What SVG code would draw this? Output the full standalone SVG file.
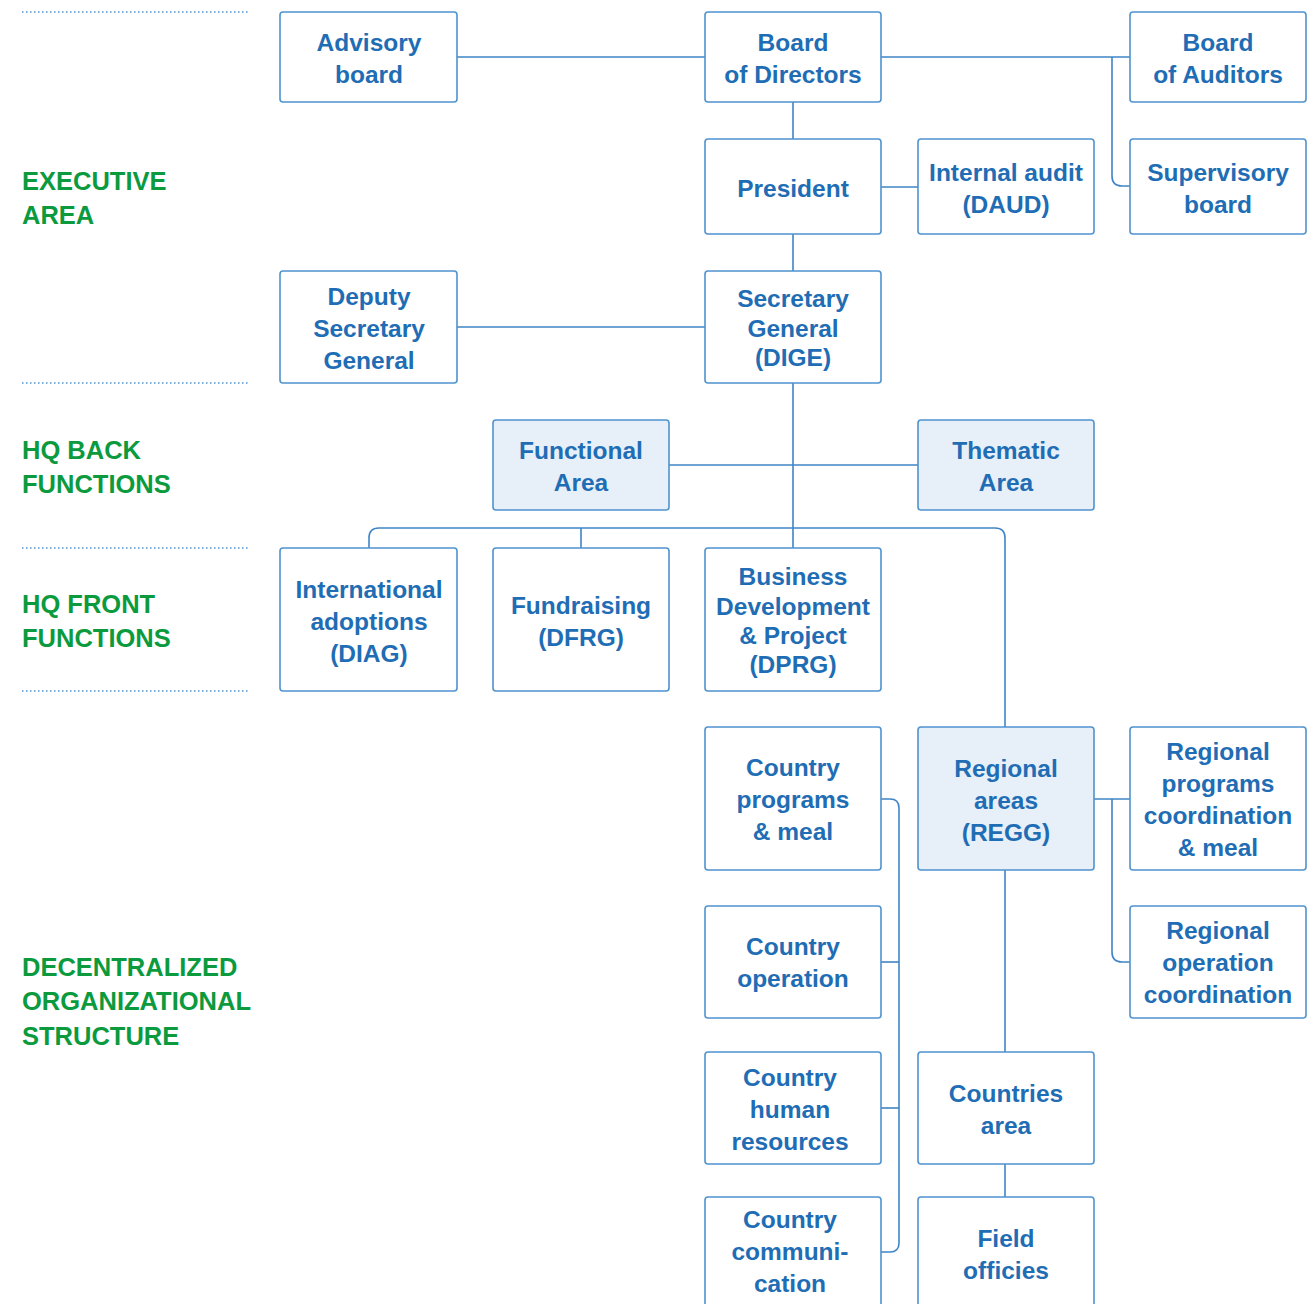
<svg xmlns="http://www.w3.org/2000/svg" width="1315" height="1304" viewBox="0 0 1315 1304">
<style>
.box{fill:#ffffff;stroke:#4f93cf;stroke-width:1.6}
.hl{fill:#e7eff8}
.t{font-family:"Liberation Sans",Arial,sans-serif;font-weight:bold;font-size:24.5px;fill:#1f6db4;text-anchor:middle}
.g{font-family:"Liberation Sans",Arial,sans-serif;font-weight:bold;font-size:25.5px;fill:#0b9a3e}
.sep{stroke:#4f93cf;stroke-width:1.3;stroke-dasharray:1.5 2.5;fill:none}
.c{stroke:#3f85c6;stroke-width:1.6;fill:none}
</style>
<rect width="1315" height="1304" fill="#ffffff"/>
<g id="separators">
<line class="sep" x1="22" y1="12" x2="248" y2="12"/>
<line class="sep" x1="22" y1="383" x2="248" y2="383"/>
<line class="sep" x1="22" y1="548" x2="248" y2="548"/>
<line class="sep" x1="22" y1="691" x2="248" y2="691"/>
</g>
<g id="area-labels">
<text class="g" x="22" y="190">EXECUTIVE</text>
<text class="g" x="22" y="224">AREA</text>
<text class="g" x="22" y="459">HQ BACK</text>
<text class="g" x="22" y="493">FUNCTIONS</text>
<text class="g" x="22" y="613">HQ FRONT</text>
<text class="g" x="22" y="647">FUNCTIONS</text>
<text class="g" x="22" y="976">DECENTRALIZED</text>
<text class="g" x="22" y="1010">ORGANIZATIONAL</text>
<text class="g" x="22" y="1045">STRUCTURE</text>
</g>
<g id="connectors">
<line class="c" x1="457" y1="57" x2="705" y2="57"/>
<line class="c" x1="881" y1="57" x2="1130" y2="57"/>
<path class="c" d="M1112 57 V176 Q1112 186 1122 186 H1130"/>
<line class="c" x1="793" y1="102" x2="793" y2="139"/>
<line class="c" x1="881" y1="187" x2="918" y2="187"/>
<line class="c" x1="793" y1="234" x2="793" y2="271"/>
<line class="c" x1="457" y1="327" x2="705" y2="327"/>
<line class="c" x1="793" y1="383" x2="793" y2="548"/>
<line class="c" x1="669" y1="465" x2="918" y2="465"/>
<path class="c" d="M369 548 V538 Q369 528 379 528 H995 Q1005 528 1005 538 V727"/>
<line class="c" x1="581" y1="528" x2="581" y2="548"/>
<line class="c" x1="1094" y1="799" x2="1130" y2="799"/>
<path class="c" d="M1112 799 V952 Q1112 962 1122 962 H1130"/>
<line class="c" x1="1005" y1="870" x2="1005" y2="1052"/>
<line class="c" x1="1005" y1="1164" x2="1005" y2="1197"/>
<path class="c" d="M881 799 H890 Q899 799 899 808 V1243 Q899 1252 890 1252 H881"/>
<line class="c" x1="881" y1="962" x2="899" y2="962"/>
<line class="c" x1="881" y1="1108" x2="899" y2="1108"/>
</g>
<g id="advisory-board">
<rect class="box" x="280" y="12" width="177" height="90" rx="3"/>
<text class="t" x="369" y="51">Advisory</text>
<text class="t" x="369" y="83">board</text>
</g>
<g id="board-of-directors">
<rect class="box" x="705" y="12" width="176" height="90" rx="3"/>
<text class="t" x="793" y="51">Board</text>
<text class="t" x="793" y="83">of Directors</text>
</g>
<g id="board-of-auditors">
<rect class="box" x="1130" y="12" width="176" height="90" rx="3"/>
<text class="t" x="1218" y="51">Board</text>
<text class="t" x="1218" y="83">of Auditors</text>
</g>
<g id="president">
<rect class="box" x="705" y="139" width="176" height="95" rx="3"/>
<text class="t" x="793" y="197">President</text>
</g>
<g id="internal-audit">
<rect class="box" x="918" y="139" width="176" height="95" rx="3"/>
<text class="t" x="1006" y="181">Internal audit</text>
<text class="t" x="1006" y="213">(DAUD)</text>
</g>
<g id="supervisory-board">
<rect class="box" x="1130" y="139" width="176" height="95" rx="3"/>
<text class="t" x="1218" y="181">Supervisory</text>
<text class="t" x="1218" y="213">board</text>
</g>
<g id="deputy-secretary-general">
<rect class="box" x="280" y="271" width="177" height="112" rx="3"/>
<text class="t" x="369" y="305">Deputy</text>
<text class="t" x="369" y="337">Secretary</text>
<text class="t" x="369" y="369">General</text>
</g>
<g id="secretary-general">
<rect class="box" x="705" y="271" width="176" height="112" rx="3"/>
<text class="t" x="793" y="307">Secretary</text>
<text class="t" x="793" y="337">General</text>
<text class="t" x="793" y="366">(DIGE)</text>
</g>
<g id="functional-area">
<rect class="box hl" x="493" y="420" width="176" height="90" rx="3"/>
<text class="t" x="581" y="459">Functional</text>
<text class="t" x="581" y="491">Area</text>
</g>
<g id="thematic-area">
<rect class="box hl" x="918" y="420" width="176" height="90" rx="3"/>
<text class="t" x="1006" y="459">Thematic</text>
<text class="t" x="1006" y="491">Area</text>
</g>
<g id="international-adoptions">
<rect class="box" x="280" y="548" width="177" height="143" rx="3"/>
<text class="t" x="369" y="598">International</text>
<text class="t" x="369" y="630">adoptions</text>
<text class="t" x="369" y="662">(DIAG)</text>
</g>
<g id="fundraising">
<rect class="box" x="493" y="548" width="176" height="143" rx="3"/>
<text class="t" x="581" y="614">Fundraising</text>
<text class="t" x="581" y="646">(DFRG)</text>
</g>
<g id="business-development">
<rect class="box" x="705" y="548" width="176" height="143" rx="3"/>
<text class="t" x="793" y="585">Business</text>
<text class="t" x="793" y="615">Development</text>
<text class="t" x="793" y="644">&amp; Project</text>
<text class="t" x="793" y="673">(DPRG)</text>
</g>
<g id="country-programs">
<rect class="box" x="705" y="727" width="176" height="143" rx="3"/>
<text class="t" x="793" y="776">Country</text>
<text class="t" x="793" y="808">programs</text>
<text class="t" x="793" y="840">&amp; meal</text>
</g>
<g id="regional-areas">
<rect class="box hl" x="918" y="727" width="176" height="143" rx="3"/>
<text class="t" x="1006" y="777">Regional</text>
<text class="t" x="1006" y="809">areas</text>
<text class="t" x="1006" y="841">(REGG)</text>
</g>
<g id="regional-programs-coordination">
<rect class="box" x="1130" y="727" width="176" height="143" rx="3"/>
<text class="t" x="1218" y="760">Regional</text>
<text class="t" x="1218" y="792">programs</text>
<text class="t" x="1218" y="824">coordination</text>
<text class="t" x="1218" y="856">&amp; meal</text>
</g>
<g id="country-operation">
<rect class="box" x="705" y="906" width="176" height="112" rx="3"/>
<text class="t" x="793" y="955">Country</text>
<text class="t" x="793" y="987">operation</text>
</g>
<g id="regional-operation-coordination">
<rect class="box" x="1130" y="906" width="176" height="112" rx="3"/>
<text class="t" x="1218" y="939">Regional</text>
<text class="t" x="1218" y="971">operation</text>
<text class="t" x="1218" y="1003">coordination</text>
</g>
<g id="country-human-resources">
<rect class="box" x="705" y="1052" width="176" height="112" rx="3"/>
<text class="t" x="790" y="1086">Country</text>
<text class="t" x="790" y="1118">human</text>
<text class="t" x="790" y="1150">resources</text>
</g>
<g id="countries-area">
<rect class="box" x="918" y="1052" width="176" height="112" rx="3"/>
<text class="t" x="1006" y="1102">Countries</text>
<text class="t" x="1006" y="1134">area</text>
</g>
<g id="country-communication">
<rect class="box" x="705" y="1197" width="176" height="130" rx="3"/>
<text class="t" x="790" y="1228">Country</text>
<text class="t" x="790" y="1260">communi-</text>
<text class="t" x="790" y="1292">cation</text>
</g>
<g id="field-officies">
<rect class="box" x="918" y="1197" width="176" height="130" rx="3"/>
<text class="t" x="1006" y="1247">Field</text>
<text class="t" x="1006" y="1279">officies</text>
</g>
</svg>
